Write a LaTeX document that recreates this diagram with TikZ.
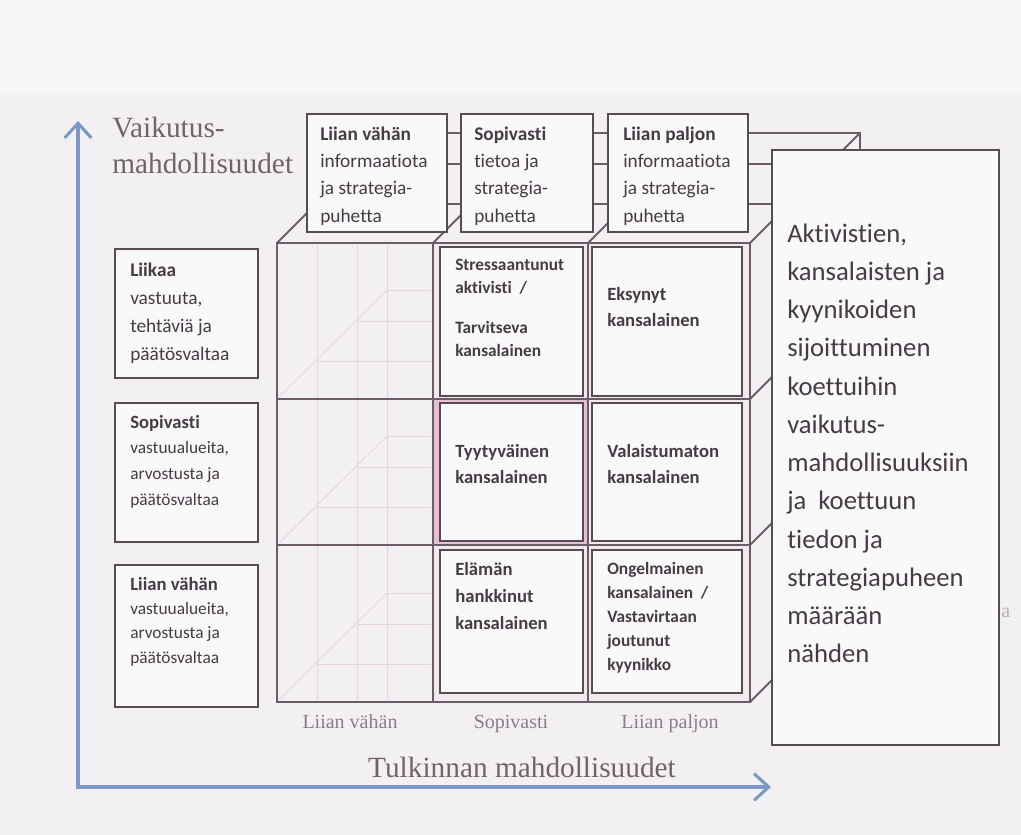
\documentclass[tikz,border=0pt]{standalone}
\usepackage{fontspec}
\setmainfont{Liberation Serif}
\newfontfamily\calfont[Ligatures=NoCommon]{Carlito}
\usetikzlibrary{arrows.meta,fit}

\definecolor{bgtop}{HTML}{F6F5F7}
\definecolor{bgmain}{HTML}{F3F0F4}
\definecolor{boxfill}{HTML}{F9F8FA}
\definecolor{boxline}{HTML}{564C52}
\definecolor{cubeline}{HTML}{6C5C65}
\definecolor{roomline}{HTML}{E8D3DF}
\definecolor{frontfill}{HTML}{F0E9EE}
\definecolor{pinkframe}{HTML}{E8BDD5}
\definecolor{txtc}{HTML}{463C43}
\definecolor{axlabc}{HTML}{736369}
\definecolor{collabc}{HTML}{8B7C86}
\definecolor{axisc}{HTML}{7C98C6}

% left-aligned stack of lines; its baseline is that of the first line
\newcommand\stk[1]{\begin{tabular}[t]{@{}l@{}}#1\end{tabular}}

\begin{document}
\begin{tikzpicture}[x=0.75pt,y=-0.75pt,
  bx/.style={draw=boxline,line width=1.1pt,fill=boxfill,inner sep=0pt},
  cellbx/.style={draw=boxline,line width=1.2pt,fill=boxfill,inner sep=0pt},
  txt/.style={anchor=base west,inner sep=0pt,text=txtc},
  axlab/.style={inner sep=0pt,text=axlabc,font=\fontsize{22}{27}\selectfont},
  collab/.style={anchor=base,inner sep=0pt,text=collabc,font=\fontsize{15}{18}\selectfont},
  cube/.style={draw=cubeline,line width=1.5pt},
  front/.style={draw=cubeline,line width=2pt},
  room/.style={draw=roomline,line width=0.6pt},
  axis/.style={draw=axisc,line width=2.3pt,-{Straight Barb[length=11pt,width=20pt]}}]

% page and paper tone
\useasboundingbox (0,0) rectangle (1021,835);
\fill[bgtop] (0,0) rectangle (1021,835);
\fill[bgmain] (0,93) rectangle (1021,835);

% top face of the cube and its depth lines
\draw[cube] (387,133) -- (860,133) -- (860,170);
\draw[cube] (356,164) -- (829,164);
\draw[cube] (316,204) -- (789,204);
\draw[cube] (277,243) -- (387,133);
\draw[cube] (433,243) -- (543,133);
\draw[cube] (588,243) -- (698,133);
\draw[cube] (750,243) -- (860,133);
% right face depth lines
\draw[cube] (750,399) -- (800,349);
\draw[cube] (750,545) -- (800,495);
\draw[cube] (750,702) -- (800,652);

% front face background
\fill[frontfill] (433,243) rectangle (750,702);
\fill[pinkframe] (433,399) rectangle (588,545);

% faint perspective lines inside the left column
\foreach \xv in {317,357,387} \draw[room] (\xv,245) -- (\xv,700);
\foreach \b in {399,545,702} {
  \draw[room] (279,\b-2) -- (387,\b-109);
  \draw[room] (387,\b-109) -- (431,\b-109);
  \draw[room] (357,\b-78) -- (431,\b-78);
  \draw[room] (317,\b-38) -- (431,\b-38);
}

% front face grid
\draw[front] (277,243) rectangle (750,702);
\draw[front] (433,243) -- (433,702);
\draw[front] (588,243) -- (588,702);
\draw[front] (277,399) -- (750,399);
\draw[front] (277,545) -- (750,545);

% cell boxes
\node[cellbx,fit={(440,247)(583,396)}] (c11) {};
\node[cellbx,fit={(592,247)(742,396)}] (c12) {};
\node[cellbx,fit={(440,403)(583,541)}] (c21) {};
\node[cellbx,fit={(592,403)(742,541)}] (c22) {};
\node[cellbx,fit={(440,550)(583,693)}] (c31) {};
\node[cellbx,fit={(592,550)(742,693)}] (c32) {};

\node[txt,font=\calfont\bfseries\fontsize{13}{17.5}\selectfont] (t11) at (455,270)
  {\stk{Stressaantunut\\aktivisti~~/\\[12.3pt]Tarvitseva\\kansalainen}};
\node[txt,font=\calfont\bfseries\fontsize{14}{20}\selectfont] (t12) at (607,300)
  {\stk{Eksynyt\\kansalainen}};
\node[txt,font=\calfont\bfseries\fontsize{14}{19.5}\selectfont] (t21) at (455,457)
  {\stk{Tyytyväinen\\kansalainen}};
\node[txt,font=\calfont\bfseries\fontsize{14}{19.5}\selectfont] (t22) at (607,457)
  {\stk{Valaistumaton\\kansalainen}};
\node[txt,font=\calfont\bfseries\fontsize{14}{20.5}\selectfont] (t31) at (455,575)
  {\stk{Elämän\\hankkinut\\kansalainen}};
\node[txt,font=\calfont\bfseries\fontsize{13}{18}\selectfont] (t32) at (607,574)
  {\stk{Ongelmainen\\kansalainen~~/\\Vastavirtaan\\joutunut\\kyynikko}};

% boxes above the cube
\node[bx,fit={(307,114)(447,232)}] (tb1) {};
\node[bx,fit={(461,114)(593,232)}] (tb2) {};
\node[bx,fit={(608,114)(748,232)}] (tb3) {};
\node[txt,font=\calfont\fontsize{14.5}{20.5}\selectfont] (tt1) at (320,140)
  {\stk{\textbf{Liian vähän}\\informaatiota\\ja strategia-\\puhetta}};
\node[txt,font=\calfont\fontsize{14.5}{20.5}\selectfont] (tt2) at (474,140)
  {\stk{\textbf{Sopivasti}\\tietoa ja\\strategia-\\puhetta}};
\node[txt,font=\calfont\fontsize{14.5}{20.5}\selectfont] (tt3) at (623,140)
  {\stk{\textbf{Liian paljon}\\informaatiota\\ja strategia-\\puhetta}};

% boxes on the left
\node[bx,fit={(115,249)(258,378)}] (lb1) {};
\node[bx,fit={(115,403)(258,542)}] (lb2) {};
\node[bx,fit={(115,565)(258,707)}] (lb3) {};
\node[txt,font=\calfont\fontsize{14.5}{21}\selectfont] (lt1) at (130,276)
  {\stk{\textbf{Liikaa}\\vastuuta,\\tehtäviä ja\\päätösvaltaa}};
\node[txt,font=\calfont\fontsize{13}{19.3}\selectfont] (lt2) at (130,428)
  {\stk{\textbf{\fontsize{14}{19.3}\selectfont Sopivasti}\\vastuualueita,\\arvostusta ja\\päätösvaltaa}};
\node[txt,font=\calfont\fontsize{13}{18.3}\selectfont] (lt3) at (130,590)
  {\stk{\textbf{\fontsize{14}{18.3}\selectfont Liian vähän}\\vastuualueita,\\arvostusta ja\\päätösvaltaa}};

% explanation box on the right
\node[txt,text=collabc!60,font=\fontsize{15}{18}\selectfont] (rem) at (1001,617) {a};
\node[bx,fit={(772,150)(999,745)}] (rb) {};
\node[txt,font=\calfont\fontsize{20}{28.7}\selectfont] (rt) at (787,242)
  {\stk{Aktivistien,\\kansalaisten ja\\kyynikoiden\\sijoittuminen\\koettuihin\\vaikutus-\\mahdollisuuksiin\\ja~~koettuun\\tiedon ja\\strategiapuheen\\määrään\\nähden}};

% column labels under the cube
\node[collab] (cl1) at (350,728) {Liian vähän};
\node[collab] (cl2) at (511,728) {Sopivasti};
\node[collab] (cl3) at (670,728) {Liian paljon};

% axes
\coordinate (o) at (78,789);
\coordinate (ytip) at (78,121);
\coordinate (xtip) at (771,787);
\draw[axis] (o) -- (ytip);
\draw[axis] (76,787) -- (xtip);
\node[axlab,anchor=base west] (vlab) at (112,137) {\stk{Vaikutus-\\mahdollisuudet}};
\node[axlab,anchor=base] (hlab) at (522,777) {Tulkinnan mahdollisuudet};
\end{tikzpicture}
\end{document}
